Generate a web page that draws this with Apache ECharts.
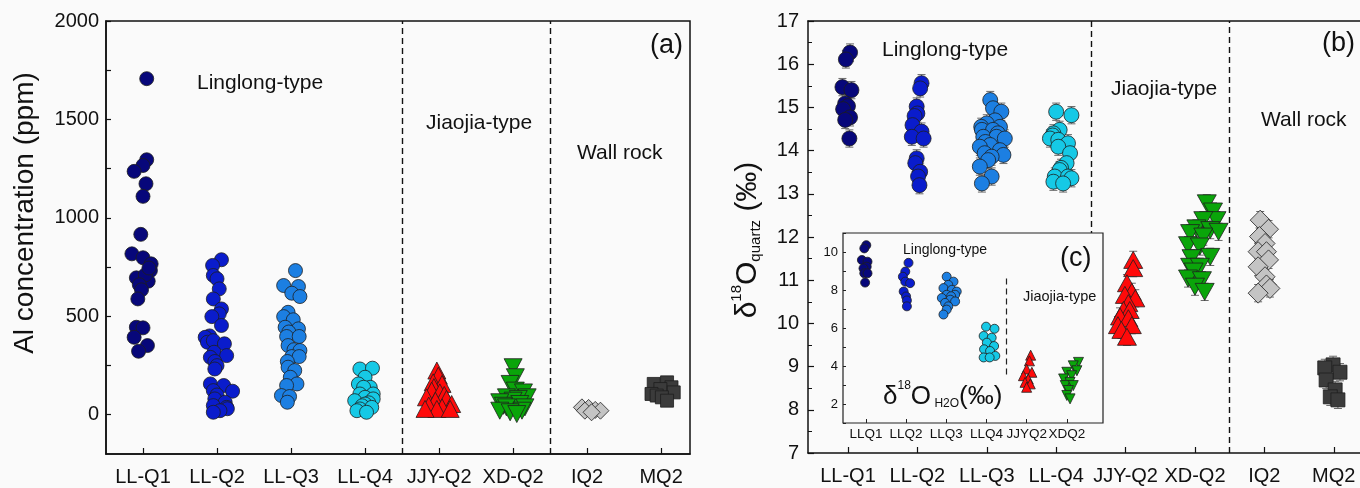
<!DOCTYPE html>
<html><head><meta charset="utf-8">
<script src="https://cdn.jsdelivr.net/npm/echarts@6/dist/echarts.min.js"></script>
<style>html,body{margin:0;padding:0;background:#fafafa}#c{width:1360px;height:488px}</style>
</head><body><div id="c"></div><script>
// ---------- categories & tick labels ----------
const catsA = ['LL-Q1','LL-Q2','LL-Q3','LL-Q4','JJY-Q2','XD-Q2','IQ2','MQ2'];
const catsC = ['LLQ1','LLQ2','LLQ3','LLQ4','JJYQ2','XDQ2'];
const catIdxA = [1,2,3,4,5,6,7,8];
const catIdxC = [1,2,3,4,5,6];
const yLabelsA = [0,500,1000,1500,2000];
const yTicksA = [0,250,500,750,1000,1250,1500,1750,2000];
const yLabelsC = [2,4,6,8,10];
const yTicksC = [1,2,3,4,5,6,7,8,9,10,11];
const groupSepA = [4.5, 6.5];
const errB = 0.2;

// ---------- (a) Al concentration, [x (category + jitter), ppm] ----------
const alLLQ1 = [[1.05,1707],[1.05,1295],[1.0,1266],[0.88,1236],[1.04,1173],[1.0,1109],[0.97,916],[0.85,817],[1.0,797],[1.11,766],[1.10,732],[0.91,695],[1.07,678],[1.03,710],[0.95,660],[1.08,745],[0.98,634],[0.93,588],[0.91,444],[1.0,441],[0.88,393],[1.06,351],[0.94,322]];
const alLLQ2 = [[2.06,787],[1.94,758],[1.95,707],[2.0,690],[2.03,639],[1.95,588],[2.06,537],[2.03,512],[1.93,498],[2.06,453],[1.9,400],[1.84,393],[1.87,368],[1.95,376],[2.10,360],[1.96,317],[2.13,300],[1.91,291],[1.97,270],[2.0,249],[1.97,232],[1.91,156],[2.09,148],[2.21,119],[1.95,122],[2.0,100],[1.97,80],[2.11,63],[1.95,46],[2.13,37],[2.14,30],[2.04,20],[1.95,12]];
const alLLQ3 = [[3.06,732],[2.9,656],[3.1,651],[3.01,617],[3.12,600],[2.96,520],[2.9,498],[3.03,482],[2.92,444],[3.1,436],[2.97,420],[2.94,397],[3.11,397],[2.96,351],[3.04,330],[3.12,326],[3.01,295],[3.11,295],[2.95,270],[2.96,241],[3.05,224],[2.99,190],[3.08,156],[2.94,148],[2.87,97],[2.98,92],[2.95,63]];
const alLLQ4 = [[3.93,232],[4.1,236],[4.0,190],[3.91,156],[4.07,139],[3.98,139],[3.93,105],[4.11,105],[4.0,88],[4.11,80],[3.86,71],[4.05,60],[4.0,54],[3.96,45],[4.09,37],[3.93,29],[3.89,20],[4.02,12]];
const alJJY = [[4.97,224],[4.99,198],[4.92,164],[5.04,156],[4.93,140],[4.9,122],[5.01,113],[5.07,100],[4.83,88],[5.1,80],[4.95,71],[5.17,54],[4.86,46],[5.04,37],[4.97,29],[5.15,29],[4.81,29]];
const alXD = [[6.0,241],[6.03,190],[5.96,156],[6.03,122],[6.14,113],[5.91,88],[6.19,88],[6.07,80],[6.0,71],[5.82,63],[6.09,54],[5.87,45],[5.91,37],[6.16,37],[5.82,20],[6.12,20],[5.96,12],[6.05,3]];
const alIQ2 = [[6.93,37],[7.02,34],[7.11,24],[6.97,20],[7.18,20],[7.06,12]];
const alMQ2 = [[8.08,164],[7.9,156],[8.14,139],[7.99,130],[8.17,113],[7.87,105],[7.94,97],[8.01,88],[8.08,71]];

// ---------- (b) d18O quartz ----------
const oLLQ1 = [[1.03,16.27],[0.97,16.11],[0.92,15.47],[1.05,15.40],[0.96,15.09],[1.0,15.03],[0.93,14.96],[1.03,14.77],[0.96,14.71],[1.02,14.28]];
const oLLQ2 = [[2.06,15.56],[2.04,15.44],[1.99,15.02],[2.0,14.86],[1.96,14.80],[1.93,14.59],[2.06,14.44],[1.92,14.32],[2.09,14.28],[1.99,13.82],[1.97,13.71],[2.04,13.51],[2.01,13.40],[2.03,13.20]];
const oLLQ3 = [[3.05,15.17],[3.09,14.98],[3.21,14.90],[3.12,14.70],[3.0,14.63],[3.19,14.55],[2.92,14.55],[2.93,14.48],[3.09,14.48],[3.16,14.40],[2.95,14.32],[3.14,14.32],[3.26,14.28],[2.98,14.20],[3.05,14.13],[2.9,14.09],[3.19,14.01],[2.97,13.94],[3.24,13.90],[3.07,13.86],[3.02,13.78],[2.9,13.63],[3.07,13.40],[2.93,13.24]];
const oLLQ4 = [[4.0,14.90],[4.22,14.82],[4.05,14.48],[3.96,14.40],[3.95,14.35],[3.91,14.28],[4.03,14.25],[4.17,14.17],[4.03,14.09],[4.2,13.94],[4.15,13.71],[4.07,13.60],[4.05,13.55],[3.98,13.40],[4.17,13.40],[4.22,13.36],[3.96,13.28],[4.1,13.24]];
const oJJY = [[5.11,11.47],[5.11,11.28],[5.02,10.93],[5.09,10.73],[4.99,10.66],[5.14,10.58],[5.04,10.47],[4.97,10.31],[5.06,10.31],[4.92,10.16],[5.04,10.12],[4.89,9.96],[5.09,9.96],[4.94,9.85],[5.02,9.69]];
const oXD = [[6.17,12.78],[6.26,12.59],[6.31,12.39],[6.12,12.39],[6.02,12.20],[6.22,12.16],[6.34,12.12],[5.93,12.09],[6.12,12.01],[5.9,11.81],[6.07,11.78],[6.22,11.54],[5.95,11.51],[5.93,11.31],[6.07,11.31],[5.98,11.20],[5.9,11.04],[6.1,11.00],[6.0,10.85],[6.14,10.73]];
const oIQ2 = [[6.94,12.39],[7.06,12.18],[6.93,12.01],[7.01,11.85],[6.91,11.66],[7.03,11.66],[7.06,11.47],[6.91,11.31],[7.01,11.08],[7.03,10.89],[7.08,10.81],[6.91,10.70]];
const oMQ2 = [[7.99,9.04],[7.87,8.97],[8.09,8.87],[7.89,8.69],[8.02,8.46],[7.95,8.30],[8.06,8.23]];

// ---------- (c) d18O H2O ----------
const wLLQ1 = [[1.01,10.36],[0.96,10.19],[0.9,9.58],[1.04,9.49],[1.02,9.23],[0.94,9.14],[0.96,8.88],[1.04,8.88],[0.98,8.39]];
const wLLQ2 = [[2.06,9.43],[1.98,8.97],[1.92,8.70],[1.98,8.44],[2.1,8.36],[1.94,7.92],[2.0,7.66],[2.02,7.45],[2.02,7.14]];
const wLLQ3 = [[3.01,8.70],[3.18,8.44],[3.05,8.27],[2.93,8.10],[3.14,8.01],[3.26,7.92],[3.01,7.75],[3.22,7.75],[3.12,7.67],[2.89,7.58],[3.1,7.49],[3.22,7.40],[2.97,7.32],[3.05,7.14],[3.01,6.97],[2.93,6.71]];
const wLLQ4 = [[3.99,6.07],[4.2,5.96],[3.93,5.58],[4.13,5.49],[4.01,5.23],[4.19,5.05],[3.94,4.88],[4.09,4.79],[4.22,4.53],[3.93,4.45],[4.08,4.45]];
const wJJY = [[5.1,4.57],[5.07,4.27],[5.0,3.84],[5.13,3.67],[4.92,3.49],[5.04,3.32],[4.96,3.14],[5.09,3.06],[5.0,2.88]];
const wXD = [[6.29,4.19],[6.16,4.01],[6.25,3.75],[6.0,3.67],[6.12,3.49],[5.92,3.32],[6.08,3.14],[5.96,2.97],[6.16,2.97],[6.04,2.71],[6.0,2.45],[6.08,2.27]];

// ---------- styles ----------
const COL = {q1:'#07077a', q2:'#0a1ccc', q3:'#1c7fe2', q4:'#16c9e6', jjy:'#ff0a0a', xd:'#0aa50a', iq:'#c4c4c4', mq:'#3b3b3b'};
const FONT = '"Liberation Sans", Arial, sans-serif';
const BORDER = '#1e1e1e';
const INSET_ZL = 1;   // inset drawn on its own layer above panel (b)
const INSET_RECT = {x:843, y:233, width:260, height:190};

function sc(data, xi, sym, size, color, z, rot) {
  const s = {type:'scatter', xAxisIndex:xi, yAxisIndex:xi, data:data, symbol:sym, symbolSize:size,
    symbolRotate: rot || 0, silent:true, animation:false, z:z,
    itemStyle:{color:color, borderColor:BORDER, borderWidth:0.8, opacity:1}};
  if (xi === 2) s.zlevel = INSET_ZL;
  return s;
}
function eb(data) {
  return {type:'custom', xAxisIndex:1, yAxisIndex:1, data:data, z:1, silent:true, animation:false,
    renderItem:function(p, api){
      const x = api.value(0), y = api.value(1);
      const t = api.coord([x, y + errB]), b = api.coord([x, y - errB]);
      const s = {stroke:'#6a6a6a', lineWidth:1};
      return {type:'group', children:[
        {type:'line', shape:{x1:t[0],y1:t[1],x2:b[0],y2:b[1]}, style:s},
        {type:'line', shape:{x1:t[0]-4,y1:t[1],x2:t[0]+4,y2:t[1]}, style:s},
        {type:'line', shape:{x1:b[0]-4,y1:b[1],x2:b[0]+4,y2:b[1]}, style:s}
      ]};
    }};
}
function axLine(w){ return {show:true, onZero:false, lineStyle:{color:'#111', width:w}}; }
const catFmt = v => catsA[Math.round(v)-1];
function txt(x, y, s, size, zl) {
  return {type:'text', z:20, zlevel:zl||0, x:x, y:y, style:{text:s, font:size+'px '+FONT, fill:'#111', align:'left', verticalAlign:'middle'}};
}
const dashB = {color:'#111', type:[6,4], width:1.4};

const chart = echarts.init(document.getElementById('c'), null, {renderer:'canvas'});
const option = {
  backgroundColor:'#fafafa',
  animation:false,
  grid:[
    {left:106, top:21, width:584, height:433, show:true, borderColor:'#111', borderWidth:1.5, backgroundColor:'transparent'},
    {left:808, top:21, width:552, height:432},
    {left:INSET_RECT.x, top:INSET_RECT.y, width:INSET_RECT.width, height:INSET_RECT.height}
  ],
  xAxis:[
    {gridIndex:0, type:'value', min:0.5, max:8.39, axisLine:axLine(1.5), splitLine:{show:false},
      axisTick:{inside:true, length:6, customValues:catIdxA, lineStyle:{color:'#111', width:1.2}},
      axisLabel:{customValues:catIdxA, margin:13, fontSize:20, color:'#111', fontFamily:FONT, formatter:catFmt}},
    {gridIndex:1, type:'value', min:0.424, max:8.378, axisLine:axLine(1.5), splitLine:{show:false},
      axisTick:{inside:true, length:6, customValues:catIdxA, lineStyle:{color:'#111', width:1.2}},
      axisLabel:{customValues:catIdxA, margin:13, fontSize:20, color:'#111', fontFamily:FONT, formatter:catFmt}},
    {gridIndex:2, type:'value', min:0.43, max:6.9, zlevel:INSET_ZL, z:9, axisLine:{show:false}, splitLine:{show:false},
      axisTick:{inside:true, length:4, customValues:catIdxC, lineStyle:{color:'#222', width:1}},
      axisLabel:{customValues:catIdxC, margin:4, fontSize:13.5, color:'#111', fontFamily:FONT, formatter:v=>catsC[Math.round(v)-1]}},
    {gridIndex:1, type:'value', position:'top', min:0.424, max:8.378, axisLine:axLine(1.5), splitLine:{show:false},
      axisTick:{show:false}, axisLabel:{show:false}}
  ],
  yAxis:[
    {gridIndex:0, type:'value', min:-200, max:2000, axisLine:axLine(1.5), splitLine:{show:false},
      axisTick:{inside:true, length:5, customValues:yTicksA, lineStyle:{color:'#111', width:1.2}},
      axisLabel:{customValues:yLabelsA, margin:7, fontSize:20, color:'#111', fontFamily:FONT, formatter:v=>String(v)}},
    {gridIndex:1, type:'value', min:7, max:17, interval:1, axisLine:axLine(1.5), splitLine:{show:false},
      axisTick:{inside:true, length:6, lineStyle:{color:'#111', width:1.2}},
      minorTick:{show:true, splitNumber:2, length:4, lineStyle:{color:'#111', width:1}},
      axisLabel:{margin:9, fontSize:20, color:'#111', fontFamily:FONT}},
    {gridIndex:2, type:'value', min:1, max:11, zlevel:INSET_ZL, z:9, axisLine:{show:false}, splitLine:{show:false},
      axisTick:{inside:true, length:3, customValues:yTicksC, lineStyle:{color:'#222', width:1}},
      axisLabel:{customValues:yLabelsC, margin:5, fontSize:13, color:'#111', fontFamily:FONT}}
  ],
  series:[
    // (a)
    Object.assign(sc(alLLQ1,0,'circle',14,COL.q1,2), {markLine:{silent:true, symbol:'none', label:{show:false}, z:3,
      lineStyle:dashB, data:groupSepA.map(v=>({xAxis:v}))}}),
    sc(alLLQ2,0,'circle',14,COL.q2,2),
    sc(alLLQ3,0,'circle',14,COL.q3,2),
    sc(alLLQ4,0,'circle',14,COL.q4,2),
    sc(alJJY,0,'triangle',[18,17],COL.jjy,2),
    sc(alXD,0,'triangle',[18,17],COL.xd,2,180),
    sc(alIQ2,0,'diamond',17,COL.iq,2),
    sc(alMQ2,0,'rect',13,COL.mq,2),
    // (b) error bars
    eb(oLLQ1), eb(oLLQ2), eb(oLLQ3), eb(oLLQ4), eb(oJJY), eb(oXD), eb(oIQ2), eb(oMQ2),
    // (b)
    Object.assign(sc(oLLQ1,1,'circle',15,COL.q1,2), {id:'bQ1', markLine:{silent:true, symbol:'none', label:{show:false}, z:3,
      lineStyle:dashB, data:groupSepA.map(v=>({xAxis:v}))}}),
    sc(oLLQ2,1,'circle',15,COL.q2,2),
    sc(oLLQ3,1,'circle',15,COL.q3,2),
    sc(oLLQ4,1,'circle',15,COL.q4,2),
    sc(oJJY,1,'triangle',[19,17],COL.jjy,2),
    sc(oXD,1,'triangle',[19,17],COL.xd,2,180),
    sc(oIQ2,1,'diamond',20,COL.iq,2),
    sc(oMQ2,1,'rect',14,COL.mq,2),
    // (c) inset
    Object.assign(sc(wLLQ1,2,'circle',9,COL.q1,10), {markLine:{silent:true, symbol:'none', label:{show:false}, z:10, zlevel:INSET_ZL,
      lineStyle:{color:'#222', type:[6,4], width:1.2}, data:[[{coord:[groupSepA[0],8.6]},{coord:[groupSepA[0],3.4]}]]}}),
    sc(wLLQ2,2,'circle',9,COL.q2,10),
    sc(wLLQ3,2,'circle',9,COL.q3,10),
    sc(wLLQ4,2,'circle',9,COL.q4,10),
    sc(wJJY,2,'triangle',[10,10],COL.jjy,10),
    sc(wXD,2,'triangle',[10,10],COL.xd,10,180)
  ],
  graphic:[
    {type:'rect', zlevel:INSET_ZL, z:1, shape:INSET_RECT, style:{fill:'#fafafa', stroke:'#222', lineWidth:1.2}},
    {type:'text', z:20, x:25, y:213, rotation:Math.PI/2, style:{text:'Al concentration (ppm)', font:'28px '+FONT, fill:'#111', align:'center', verticalAlign:'middle'}},
    txt(197, 83, 'Linglong-type', 21),
    txt(426, 123, 'Jiaojia-type', 21),
    txt(577, 153, 'Wall rock', 21),
    txt(650, 46, '(a)', 27),
    {type:'text', z:20, x:746, y:240, rotation:Math.PI/2, style:{
      text:'{a|δ}{p|18}{a|O}{b|quartz}{a| (‰)}', align:'center', verticalAlign:'middle', fill:'#111',
      rich:{a:{fontSize:30, fontFamily:FONT, fill:'#111', lineHeight:34, verticalAlign:'bottom'},
            p:{fontSize:15, fontFamily:FONT, fill:'#111', lineHeight:34, verticalAlign:'top'},
            b:{fontSize:15, fontFamily:FONT, fill:'#111', lineHeight:34, verticalAlign:'bottom', padding:[10,0,0,0]}}}},
    txt(882, 50, 'Linglong-type', 21),
    txt(1111, 89, 'Jiaojia-type', 21),
    txt(1261, 120, 'Wall rock', 21),
    txt(1322, 44, '(b)', 27),
    txt(903, 250, 'Linglong-type', 14, INSET_ZL),
    txt(1023, 297, 'Jiaojia-type', 14.5, INSET_ZL),
    txt(1060, 259, '(c)', 27, INSET_ZL),
    {type:'text', z:20, zlevel:INSET_ZL, x:883, y:395, style:{
      text:'{a|δ}{p|18}{a|O}{b| H2O}{a|(‰)}', align:'left', verticalAlign:'middle', fill:'#111',
      rich:{a:{fontSize:26, fontFamily:FONT, fill:'#111', lineHeight:30, verticalAlign:'bottom'},
            p:{fontSize:12, fontFamily:FONT, fill:'#111', lineHeight:30, verticalAlign:'top'},
            b:{fontSize:12, fontFamily:FONT, fill:'#111', lineHeight:30, verticalAlign:'bottom', padding:[8,0,0,0]}}}}
  ]
};
chart.setOption(option);
// first separator in (b) stops at the top edge of the inset box
const insetTopVal = chart.convertFromPixel({yAxisIndex:1}, INSET_RECT.y);
chart.setOption({series:[{id:'bQ1', markLine:{data:[
  [{coord:[groupSepA[0], 17]}, {coord:[groupSepA[0], insetTopVal]}],
  {xAxis:groupSepA[1]}
]}}]});
</script></body></html>
